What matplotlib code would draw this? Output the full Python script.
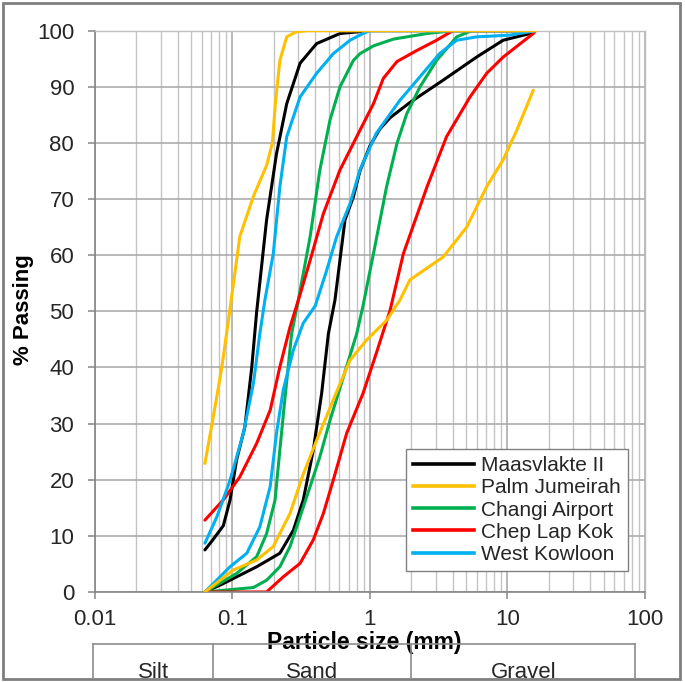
import numpy as np
import matplotlib
matplotlib.use("Agg")
import matplotlib.pyplot as plt
from matplotlib.patches import Rectangle
from matplotlib.lines import Line2D
from matplotlib.ticker import LogLocator, FixedLocator, NullFormatter, FixedFormatter

plt.rcParams['font.family'] = ['Liberation Sans', 'DejaVu Sans']

# grading curves: particle size (mm) and % passing, two bounds per project
maas_fine_d = [0.063, 0.072, 0.0857, 0.096, 0.107, 0.123, 0.138, 0.150, 0.177, 0.209, 0.248, 0.31, 0.409, 0.605, 1.0, 16]
maas_fine_p = [7.5, 9.3, 11.8, 16.4, 23.5, 29.4, 40, 50, 66.3, 78.1, 87, 94.2, 97.7, 99.5, 100, 100]
maas_coarse_d = [0.063, 0.0857, 0.15, 0.221, 0.277, 0.327, 0.387, 0.445, 0.498, 0.556, 0.658, 0.757, 0.845, 1.0, 1.18, 1.4, 1.95, 3.41, 5.96, 9.3, 14.6, 16]
maas_coarse_p = [0, 1.5, 4.5, 6.9, 11, 16.4, 25.3, 35.4, 46, 52, 66.3, 70.4, 75, 79.5, 82.5, 84.5, 87.2, 91.2, 95.3, 98.3, 99.5, 100]

palm_fine_d = [0.063, 0.0725, 0.0836, 0.0934, 0.113, 0.142, 0.177, 0.195, 0.205, 0.221, 0.248, 0.29, 0.35, 16]
palm_fine_p = [22.9, 31.2, 40, 48.4, 63.3, 70.5, 76, 80, 87, 94.7, 98.9, 99.8, 100, 100]
palm_coarse_d = [0.063, 0.101, 0.15, 0.198, 0.262, 0.327, 0.409, 0.54, 0.716, 0.945, 1.32, 1.65, 1.95, 3.41, 5.05, 7.05, 9.3, 11.7, 15.4]
palm_coarse_p = [0, 3.9, 5.7, 8.1, 14, 21, 27, 34.2, 41.3, 44.9, 48.4, 52, 55.6, 59.7, 65, 72.2, 77, 82.3, 89.4]

changi_fine_d = [0.063, 0.107, 0.15, 0.177, 0.204, 0.221, 0.24, 0.269, 0.301, 0.367, 0.432, 0.512, 0.605, 0.757, 0.845, 1.06, 1.48, 2.6, 4.0, 16]
changi_fine_p = [0, 3.3, 6.3, 10.4, 16.4, 25.3, 34.2, 46, 52, 63.3, 75.2, 84.1, 90, 94.7, 95.9, 97.3, 98.5, 99.5, 100, 100]
changi_coarse_d = [0.063, 0.142, 0.177, 0.221, 0.262, 0.31, 0.367, 0.432, 0.512, 0.64, 0.8, 0.89, 1.06, 1.32, 1.57, 1.85, 2.31, 3.05, 4.27, 5.5, 16]
changi_coarse_p = [0, 0.8, 2.1, 4.5, 8.1, 13.4, 18.8, 24.1, 30.6, 38.3, 46, 51, 60.3, 72.2, 79.9, 85.2, 90, 94.7, 98.9, 100, 100]

chep_fine_d = [0.063, 0.0857, 0.113, 0.15, 0.188, 0.221, 0.262, 0.31, 0.367, 0.458, 0.605, 0.8, 1.06, 1.25, 1.57, 2.2, 3.05, 4.0, 16]
chep_fine_p = [12.8, 16.4, 20.5, 26.5, 32.4, 40.1, 47.2, 53, 59.1, 67.4, 75.2, 81.1, 87, 91.5, 94.5, 96.5, 98.3, 100, 100]
chep_coarse_d = [0.063, 0.177, 0.234, 0.31, 0.387, 0.458, 0.54, 0.677, 0.89, 1.11, 1.4, 1.75, 2.6, 3.6, 5.34, 7.05, 9.3, 12.4, 15.4, 16]
chep_coarse_p = [0, 0, 2.7, 5.1, 9.3, 14, 19.9, 28.3, 35.4, 42.5, 50.2, 60.3, 72.2, 81.1, 88.2, 92.4, 95.3, 97.7, 99.5, 100]

kowloon_fine_d = [0.063, 0.077, 0.096, 0.12, 0.142, 0.158, 0.172, 0.198, 0.221, 0.248, 0.31, 0.409, 0.54, 0.716, 0.89, 1.0, 16]
kowloon_fine_p = [8.7, 13.4, 19.9, 28.3, 37.2, 46, 52, 60.3, 72.2, 81.1, 88.2, 92.4, 95.9, 98.3, 99.5, 100, 100]
kowloon_coarse_d = [0.063, 0.096, 0.127, 0.158, 0.188, 0.209, 0.234, 0.277, 0.327, 0.4, 0.484, 0.572, 0.716, 0.845, 1.11, 1.65, 2.31, 3.2, 4.27, 5.96, 10.3, 16]
kowloon_coarse_p = [0, 4.5, 6.9, 11.6, 18.8, 28.3, 36, 43.1, 47.9, 51, 57.3, 63.3, 69.2, 75.2, 81.7, 87.6, 91.8, 95.9, 98.3, 98.9, 99.2, 100]

names = ['Maasvlakte II', 'Palm Jumeirah', 'Changi Airport', 'Chep Lap Kok', 'West Kowloon']
colors = ['#000000', '#FFC000', '#00B050', '#FF0000', '#00B0F0']
curves = [
    [(maas_fine_d, maas_fine_p), (maas_coarse_d, maas_coarse_p)],
    [(palm_fine_d, palm_fine_p), (palm_coarse_d, palm_coarse_p)],
    [(changi_fine_d, changi_fine_p), (changi_coarse_d, changi_coarse_p)],
    [(chep_fine_d, chep_fine_p), (chep_coarse_d, chep_coarse_p)],
    [(kowloon_fine_d, kowloon_fine_p), (kowloon_coarse_d, kowloon_coarse_p)],
]

soil_classes = ['Silt', 'Sand', 'Gravel']
class_bounds = [0.0097, 0.072, 2.0, 85]

W, H = 685, 682
fig = plt.figure(figsize=(W / 100, H / 100), dpi=100)


def fx(px):
    return px / W


def fy(py):
    return 1 - py / H


ax = fig.add_axes([fx(95), fy(592), fx(645) - fx(95), fy(30.7) - fy(592)])

handles = []
for i, name in enumerate(names):
    z = 3 if name == 'Palm Jumeirah' else 2
    for d, p in curves[i]:
        ax.plot(d, p, color=colors[i], lw=2.2, solid_capstyle='round',
                solid_joinstyle='round', zorder=z)
    handles.append(Line2D([], [], color=colors[i], lw=2.6))

ax.set_xscale('log')
ax.set_xlim(0.01, 100)
ax.set_ylim(0, 100)
ax.xaxis.set_major_locator(FixedLocator([0.01, 0.1, 1, 10, 100]))
ax.xaxis.set_major_formatter(FixedFormatter(['0.01', '0.1', '1', '10', '100']))
ax.xaxis.set_minor_locator(LogLocator(base=10, subs=np.arange(2, 10)))
ax.xaxis.set_minor_formatter(NullFormatter())
ax.set_yticks(np.arange(0, 101, 10))

ax.grid(True, which='major', color='#A6A6A6', lw=1.1, zorder=0)
ax.grid(True, which='minor', axis='x', color='#C4C4C4', lw=1.0, zorder=0)
ax.set_axisbelow(True)

for s in ['top', 'right']:
    ax.spines[s].set_color('#BFBFBF')
    ax.spines[s].set_linewidth(1.0)
for s in ['left', 'bottom']:
    ax.spines[s].set_color('#868686')
    ax.spines[s].set_linewidth(1.2)

ax.tick_params(which='major', direction='out', length=5, width=1.1, color='#868686',
               labelsize=16, labelcolor='#262626')
ax.tick_params(axis='y', pad=10)
ax.tick_params(axis='x', pad=7)
ax.tick_params(which='minor', length=0)

ax.set_xlabel('Particle size (mm)', fontsize=16.5, fontweight='bold')
ax.xaxis.set_label_coords(fx(364), fy(643), transform=fig.transFigure)
ax.xaxis.label.set_va('center')
ax.set_ylabel('% Passing', fontsize=16, fontweight='bold')
ax.yaxis.set_label_coords(fx(23), fy(310), transform=fig.transFigure)
ax.yaxis.label.set_va('center')

leg = fig.legend(handles, names, loc='upper left', bbox_to_anchor=(fx(406), fy(449)),
                 bbox_transform=fig.transFigure, fontsize=15, frameon=True,
                 fancybox=False, edgecolor='#808080', framealpha=1,
                 handlelength=2.9, handletextpad=0.33, labelspacing=0.15,
                 borderpad=0.35, borderaxespad=0)
leg.get_frame().set_linewidth(1.0)
for t in leg.get_texts():
    t.set_color('#262626')

# soil classification strip under the axis
tr = matplotlib.transforms.blended_transform_factory(ax.transData, fig.transFigure)
fig.add_artist(Line2D([class_bounds[0], class_bounds[-1]], [fy(644), fy(644)],
                      transform=tr, color='#8C8C8C', lw=1.2))
for b in class_bounds:
    fig.add_artist(Line2D([b, b], [fy(644), fy(678)], transform=tr,
                          color='#8C8C8C', lw=1.2))
for k, lab in enumerate(soil_classes):
    xm = np.sqrt(class_bounds[k] * class_bounds[k + 1])
    fig.text(xm, fy(678), lab, transform=tr, ha='center', va='baseline',
             fontsize=16, color='#262626')

# outer frame
fig.add_artist(Rectangle((fx(2.5), fy(679)), fx(680) - fx(2.5), fy(2.5) - fy(679),
                         transform=fig.transFigure, fill=False,
                         edgecolor='#7F7F7F', lw=2))

fig.savefig('out.png', dpi=100)
